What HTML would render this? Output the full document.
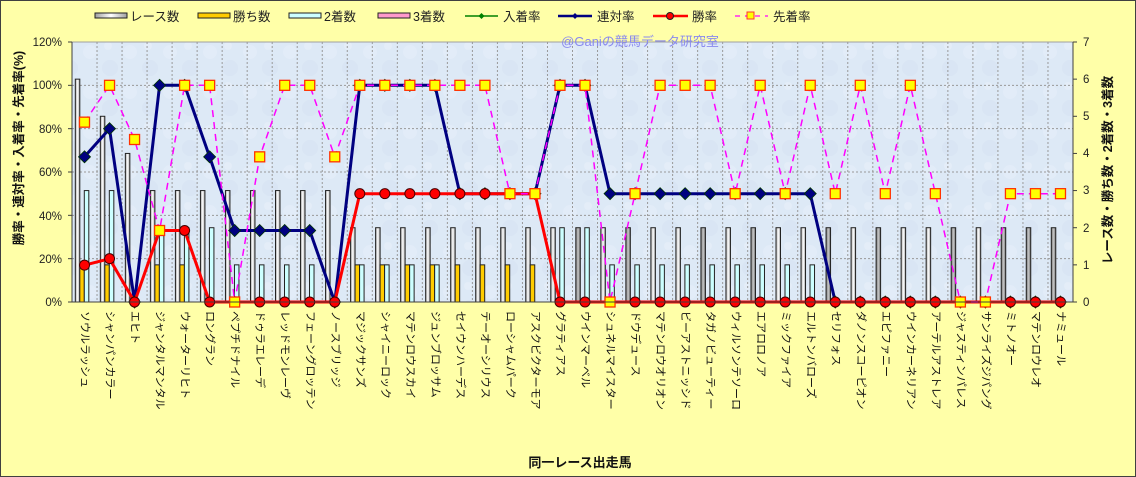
<!DOCTYPE html>
<html><head><meta charset="utf-8"><style>
html,body{margin:0;padding:0;background:#ffffa8}
svg{display:block;font-family:"Liberation Sans","Noto Sans CJK JP",sans-serif}
</style></head><body>
<svg id="c" width="1136" height="477" viewBox="0 0 1136 477" xmlns="http://www.w3.org/2000/svg">
<defs>
<linearGradient id="gw" x1="0" x2="1"><stop offset="0" stop-color="#a0a0a0"/><stop offset="0.5" stop-color="#ffffff"/><stop offset="1" stop-color="#a0a0a0"/></linearGradient>
<linearGradient id="gd" x1="0" x2="1"><stop offset="0" stop-color="#707070"/><stop offset="0.5" stop-color="#c8c8c8"/><stop offset="1" stop-color="#707070"/></linearGradient>
<pattern id="tex" width="40" height="40" patternUnits="userSpaceOnUse">
<rect width="40" height="40" fill="#dde9f6"/><circle cx="10" cy="12" r="7" fill="#e2ecf8"/><circle cx="30" cy="28" r="8" fill="#d9e5f4"/><circle cx="28" cy="6" r="4" fill="#e4edf8"/>
</pattern>
</defs>
<rect x="0.5" y="0.5" width="1135" height="476" fill="#ffffa8" stroke="#404040"/>
<rect x="72" y="42" width="1001" height="260" fill="url(#tex)" stroke="#a0a0a0"/>
<g id="grid" stroke="#999" stroke-width="1" stroke-dasharray="2,2"></g>
<text x="640" y="46" font-size="13" fill="#8a8aee" text-anchor="middle">@Ganiの競馬データ研究室</text>
<g id="bars"></g>
<g id="lines"></g>
<line x1="72" y1="302" x2="1073" y2="302" stroke="#404040"/>
<g font-size="11.5" fill="#222" text-anchor="end">
<text x="62" y="46">120%</text><text x="62" y="89">100%</text><text x="62" y="133">80%</text><text x="62" y="176">60%</text><text x="62" y="220">40%</text><text x="62" y="263">20%</text><text x="62" y="306">0%</text>
</g>
<g font-size="11.5" fill="#222">
<text x="1083" y="306">0</text><text x="1083" y="269">1</text><text x="1083" y="232">2</text><text x="1083" y="194">3</text><text x="1083" y="157">4</text><text x="1083" y="120">5</text><text x="1083" y="83">6</text><text x="1083" y="46">7</text>
</g>
<g id="rt" stroke="#404040"></g>
<text transform="translate(23,148) rotate(-90)" font-size="12.5" font-weight="bold" text-anchor="middle" fill="#111">勝率・連対率・入着率・先着率(%)</text>
<text transform="translate(1112,170) rotate(-90)" font-size="12.5" font-weight="bold" text-anchor="middle" fill="#111">レース数・勝ち数・2着数・3着数</text>
<text x="580" y="467" font-size="13" font-weight="bold" text-anchor="middle" fill="#111">同一レース出走馬</text>
<g font-size="12.5" fill="#222">
<rect x="95" y="13" width="32" height="5" fill="url(#gw)" stroke="#222"/><text x="130" y="21">レース数</text>
<rect x="198" y="13" width="32" height="5" fill="#ffcc00" stroke="#222"/><text x="233" y="21">勝ち数</text>
<rect x="289" y="13" width="32" height="5" fill="#ccffff" stroke="#222"/><text x="324" y="21">2着数</text>
<rect x="378" y="13" width="32" height="5" fill="#ff99cc" stroke="#222"/><text x="413" y="21">3着数</text>
<line x1="465" y1="16" x2="498" y2="16" stroke="#008000" stroke-width="1.5"/><path d="M481.5 13 L484.5 16 L481.5 19 L478.5 16Z" fill="#008000"/><text x="503" y="21">入着率</text>
<line x1="558" y1="16" x2="592" y2="16" stroke="#000080" stroke-width="2.5"/><path d="M575 13 L578 16 L575 19 L572 16Z" fill="#000080"/><text x="597" y="21">連対率</text>
<line x1="653" y1="16" x2="688" y2="16" stroke="#ff0000" stroke-width="2.5"/><circle cx="670" cy="16" r="3.5" fill="#f00" stroke="#222"/><text x="692" y="21">勝率</text>
<line x1="735" y1="16" x2="768" y2="16" stroke="#ff00ff" stroke-width="1.2" stroke-dasharray="5,5"/><rect x="747" y="12" width="7" height="7" fill="#ff0" stroke="#f33"/><text x="773" y="21">先着率</text>
</g>
<g font-size="11" fill="#111" dominant-baseline="central">
<text transform="translate(84.5,311) rotate(90)">ソウルラッシュ</text>
<text transform="translate(109.5,311) rotate(90)">シャンパンカラー</text>
<text transform="translate(134.6,311) rotate(90)">エヒト</text>
<text transform="translate(159.6,311) rotate(90)">ジャンタルマンタル</text>
<text transform="translate(184.6,311) rotate(90)">ウォーターリヒト</text>
<text transform="translate(209.7,311) rotate(90)">ロングラン</text>
<text transform="translate(234.7,311) rotate(90)">ペプチドナイル</text>
<text transform="translate(259.7,311) rotate(90)">ドゥラエレーデ</text>
<text transform="translate(284.7,311) rotate(90)">レッドモンレーヴ</text>
<text transform="translate(309.8,311) rotate(90)">フェーングロッテン</text>
<text transform="translate(334.8,311) rotate(90)">ノースブリッジ</text>
<text transform="translate(359.8,311) rotate(90)">マジックサンズ</text>
<text transform="translate(384.9,311) rotate(90)">シャイニーロック</text>
<text transform="translate(409.9,311) rotate(90)">マテンロウスカイ</text>
<text transform="translate(434.9,311) rotate(90)">ジュンブロッサム</text>
<text transform="translate(459.9,311) rotate(90)">セイウンハーデス</text>
<text transform="translate(485.0,311) rotate(90)">テーオーシリウス</text>
<text transform="translate(510.0,311) rotate(90)">ローシャムパーク</text>
<text transform="translate(535.0,311) rotate(90)">アスクビクターモア</text>
<text transform="translate(560.1,311) rotate(90)">グラティアス</text>
<text transform="translate(585.1,311) rotate(90)">ウインマーベル</text>
<text transform="translate(610.1,311) rotate(90)">シュネルマイスター</text>
<text transform="translate(635.2,311) rotate(90)">ドウデュース</text>
<text transform="translate(660.2,311) rotate(90)">マテンロウオリオン</text>
<text transform="translate(685.2,311) rotate(90)">ビーアストニッシド</text>
<text transform="translate(710.2,311) rotate(90)">タガノビューティー</text>
<text transform="translate(735.3,311) rotate(90)">ウィルソンテソーロ</text>
<text transform="translate(760.3,311) rotate(90)">エアロロノア</text>
<text transform="translate(785.3,311) rotate(90)">ミックファイア</text>
<text transform="translate(810.4,311) rotate(90)">エルトンバローズ</text>
<text transform="translate(835.4,311) rotate(90)">セリフォス</text>
<text transform="translate(860.4,311) rotate(90)">ダノンスコーピオン</text>
<text transform="translate(885.5,311) rotate(90)">エピファニー</text>
<text transform="translate(910.5,311) rotate(90)">ウインカーネリアン</text>
<text transform="translate(935.5,311) rotate(90)">アーテルアストレア</text>
<text transform="translate(960.5,311) rotate(90)">ジャスティンパレス</text>
<text transform="translate(985.6,311) rotate(90)">サンライズジパング</text>
<text transform="translate(1010.6,311) rotate(90)">ミトノオー</text>
<text transform="translate(1035.6,311) rotate(90)">マテンロウレオ</text>
<text transform="translate(1060.7,311) rotate(90)">ナミュール</text>
</g>
</svg>
<script>
(function(){
var NS="http://www.w3.org/2000/svg";
function el(p,t,a){var e=document.createElementNS(NS,t);for(var k in a)e.setAttribute(k,a[k]);p.appendChild(e);return e;}
var X0=72,W=25.025,Y0=302,H=260;
var g=document.getElementById('grid');
for(var i=1;i<40;i++){var x=X0+W*i;el(g,'line',{x1:x,y1:42,x2:x,y2:302});}
for(var j=1;j<6;j++){var y=Y0-H*j/6;el(g,'line',{x1:72,y1:y,x2:1073,y2:y});}
var rt=document.getElementById('rt');
for(var j=0;j<=7;j++){var y=Y0-H*j/7;el(rt,'line',{x1:1073,y1:y,x2:1077,y2:y});}
for(var j=0;j<=6;j++){var y=Y0-H*j/6;el(rt,'line',{x1:68,y1:y,x2:72,y2:y});}
el(rt,'line',{x1:1073,y1:42,x2:1073,y2:302});el(rt,'line',{x1:72,y1:42,x2:72,y2:302});
var races=[6,5,4,3,3,3,3,3,3,3,3],wins=[1,1,0,1,1,0,0,0,0,0,0],sec=[3,3,0,2,2,2,1,1,1,1,0];
for(i=0;i<29;i++){races.push(2);}
for(i=0;i<8;i++)wins.push(1);for(i=0;i<21;i++)wins.push(0);
sec=sec.concat([1,1,1,1,0,0,0,0,2,2,1,1,1,1,1,1,1,1,1,0,0,0,0,0,0,0,0,0,0]);
var dark=[21,23,26,28,31,33,36,38,39,40];
var b=document.getElementById('bars');var u=H/7,bw=4.5;
for(i=0;i<40;i++){var x=X0+W*i+3.3;
 function bar(k,v,f){if(!v)return;el(b,'rect',{x:x+k*bw,y:Y0-v*u,width:bw,height:v*u,fill:f,stroke:'#222','stroke-width':1});}
 bar(0,races[i],dark.indexOf(i+1)>=0?'url(#gd)':'url(#gw)');bar(1,wins[i],'#ffcc00');bar(2,sec[i],'#ccffff');}
var ren=[67,80,0,100,100,67,33,33,33,33,0,100,100,100,100,50,50,50,50,100,100,50,50,50,50,50,50,50,50,50,0,0,0,0,0,0,0,0,0,0];
var win=[17,20,0,33,33,0,0,0,0,0,0,50,50,50,50,50,50,50,50,0,0,0,0,0,0,0,0,0,0,0,0,0,0,0,0,0,0,0,0,0];
var sen=[83,100,75,33,100,100,0,67,100,100,67,100,100,100,100,100,100,50,50,100,100,0,50,100,100,100,50,100,50,100,50,100,50,100,50,0,0,50,50,50];
var L=document.getElementById('lines');
function px(i){return X0+W*(i+0.5);}function py(v){return Y0-v*H/120;}
function pts(a){return a.map(function(v,i){return px(i).toFixed(1)+','+py(v).toFixed(1);}).join(' ');}
el(L,'polyline',{points:pts(ren),fill:'none',stroke:'#000080','stroke-width':3,'stroke-linejoin':'round'});
ren.forEach(function(v,i){var x=px(i),y=py(v);el(L,'path',{d:'M'+x+' '+(y-6)+'L'+(x+6)+' '+y+'L'+x+' '+(y+6)+'L'+(x-6)+' '+y+'Z',fill:'#000080',stroke:'#003300','stroke-width':0.8});});
el(L,'polyline',{points:pts(win),fill:'none',stroke:'#ff0000','stroke-width':3,'stroke-linejoin':'round'});
win.forEach(function(v,i){el(L,'circle',{cx:px(i),cy:py(v),r:5,fill:'#ff0000',stroke:'#400','stroke-width':1});});
el(L,'polyline',{points:pts(sen),fill:'none',stroke:'#ff00ff','stroke-width':1.5,'stroke-dasharray':'7,5'});
sen.forEach(function(v,i){el(L,'rect',{x:px(i)-5,y:py(v)-5,width:10,height:10,fill:'#ffff00',stroke:'#ff3300','stroke-width':1.3});});
})();
</script>
</body></html>
